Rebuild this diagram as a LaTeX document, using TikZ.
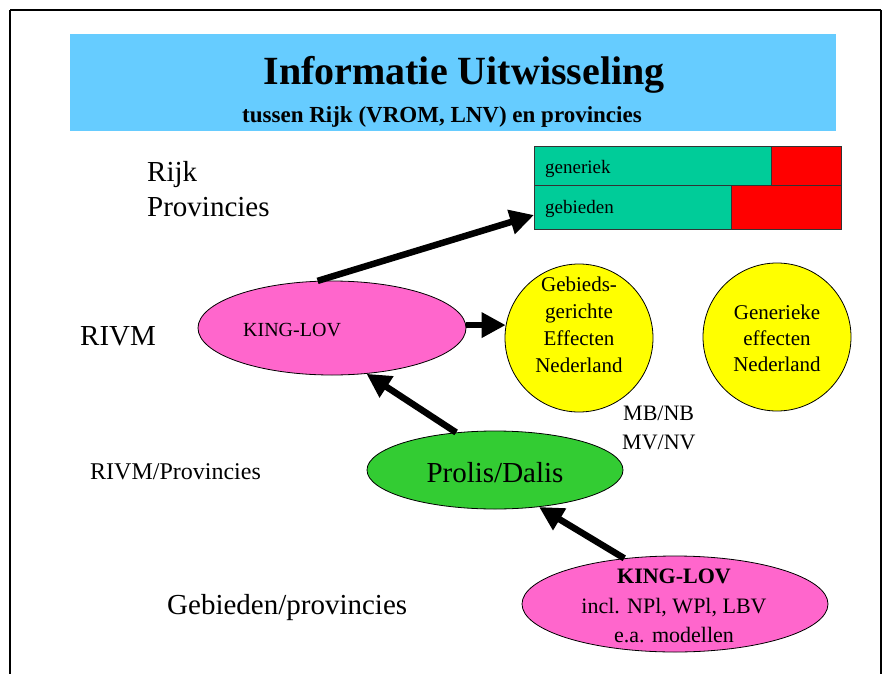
\documentclass[tikz,border=0pt]{standalone}
\usepackage{fontspec}
\setmainfont{Liberation Serif}
\usetikzlibrary{shapes.geometric,arrows.meta}
\definecolor{banner}{HTML}{66CCFF}
\definecolor{tabgreen}{HTML}{00CC99}
\definecolor{pinkk}{HTML}{FF66CC}
\definecolor{greenn}{HTML}{33CC33}
\definecolor{yelloww}{HTML}{FFFF00}
\definecolor{redd}{HTML}{FF0000}
\tikzset{
  lbl/.style={inner sep=0pt, font=\fontsize{29}{34}\selectfont},
  oval/.style={ellipse, draw=black, line width=0.8pt, inner sep=0pt},
  disc/.style={circle, draw=black, line width=0.8pt, fill=yelloww, inner sep=0pt, minimum size=148pt},
  flow/.style={line width=6.5pt, -{Triangle[length=24pt,width=24pt]}},
  cell/.style={draw=black!80, line width=0.8pt}
}
\begin{document}
\begin{tikzpicture}[x=1pt,y=-1pt]
\useasboundingbox (0,0) rectangle (888,674);
\clip (0,0) rectangle (888,674);
\fill[white] (0,0) rectangle (888,674);
% frame
\draw[line width=2pt] (10,10) -- (881,10);
\draw[line width=2pt] (10,10) -- (10,690);
\draw[line width=2pt] (881,10) -- (881,690);
% banner
\fill[banner] (70,34) rectangle (836,131);
\node[inner sep=0pt, anchor=base, font=\fontsize{40}{48}\selectfont\bfseries] (title) at (464,85) {Informatie Uitwisseling};
\node[inner sep=0pt, anchor=base, font=\fontsize{23}{28}\selectfont\bfseries] (subtitle) at (442,123) {tussen Rijk (VROM, LNV) en provincies};
% left labels
\node[lbl, anchor=base west] (rijk) at (147,181) {Rijk};
\node[lbl, anchor=base west] (prov) at (147,216) {Provincies};
\node[lbl, anchor=base west] (rivm) at (80,345) {RIVM};
\node[lbl, anchor=base west, font=\fontsize{24}{28}\selectfont] (rivmprov) at (90,479) {RIVM/Provincies};
\node[lbl, anchor=base west] (gebprov) at (167,614) {Gebieden/provincies};
% table
\fill[tabgreen] (534,146) rectangle (771,185);
\fill[redd] (771,146) rectangle (841,185);
\fill[tabgreen] (534,185) rectangle (731,229);
\fill[redd] (731,185) rectangle (841,229);
\draw[cell] (534,146) rectangle (841,229);
\draw[cell] (534,185) -- (841,185);
\draw[cell] (771,146) -- (771,185);
\draw[cell] (731,185) -- (731,229);
\node[inner sep=0pt, anchor=base west, font=\fontsize{19}{22}\selectfont] (generiek) at (545,173) {generiek};
\node[inner sep=0pt, anchor=base west, font=\fontsize{19}{22}\selectfont] (gebieden) at (545,213) {gebieden};
\coordinate (tabin) at (534,215);
% top KING-LOV
\node[oval, fill=pinkk, minimum width=268pt, minimum height=94pt] (king) at (332,328) {};
\node[inner sep=0pt, anchor=base west, font=\fontsize{20}{24}\selectfont] (kingtxt) at (243,336) {KING-LOV};
% circles
\node[disc] (circ1) at (579,338) {};
\node[inner sep=0pt, align=center, font=\fontsize{21}{27}\selectfont] (c1txt) at (579,325) {Gebieds-\\gerichte\\Effecten\\Nederland};
\node[disc] (circ2) at (777,337) {};
\node[inner sep=0pt, align=center, font=\fontsize{21}{26}\selectfont] (c2txt) at (777,338) {Generieke\\effecten\\Nederland};
\node[inner sep=0pt, anchor=base west, font=\fontsize{22}{26}\selectfont] (mbnb) at (623,420) {MB/NB};
\node[inner sep=0pt, anchor=base west, font=\fontsize{22}{26}\selectfont] (mvnv) at (622,449) {MV/NV};
% Prolis/Dalis
\node[oval, fill=greenn, minimum width=256pt, minimum height=78pt] (prolis) at (495,470) {};
\node[inner sep=0pt, anchor=base, font=\fontsize{29}{34}\selectfont] (prolistxt) at (495,482) {Prolis/Dalis};
% bottom KING-LOV
\node[oval, fill=pinkk, minimum width=306pt, minimum height=96pt] (king2) at (675,604) {};
\node[inner sep=0pt, align=center, font=\fontsize{22}{29.5}\selectfont] (king2txt) at (674,606) {\textbf{KING-LOV}\\incl. NPl, WPl, LBV\\e.a. modellen};
% arrows
\draw[flow] (king.107) -- (tabin);
\draw[flow] (king.east |- circ1.170) -- (circ1.170);
\draw[flow] (prolis.136) -- (king.-53);
\draw[flow] (king2.138) -- (prolis.-40);
\end{tikzpicture}
\end{document}
